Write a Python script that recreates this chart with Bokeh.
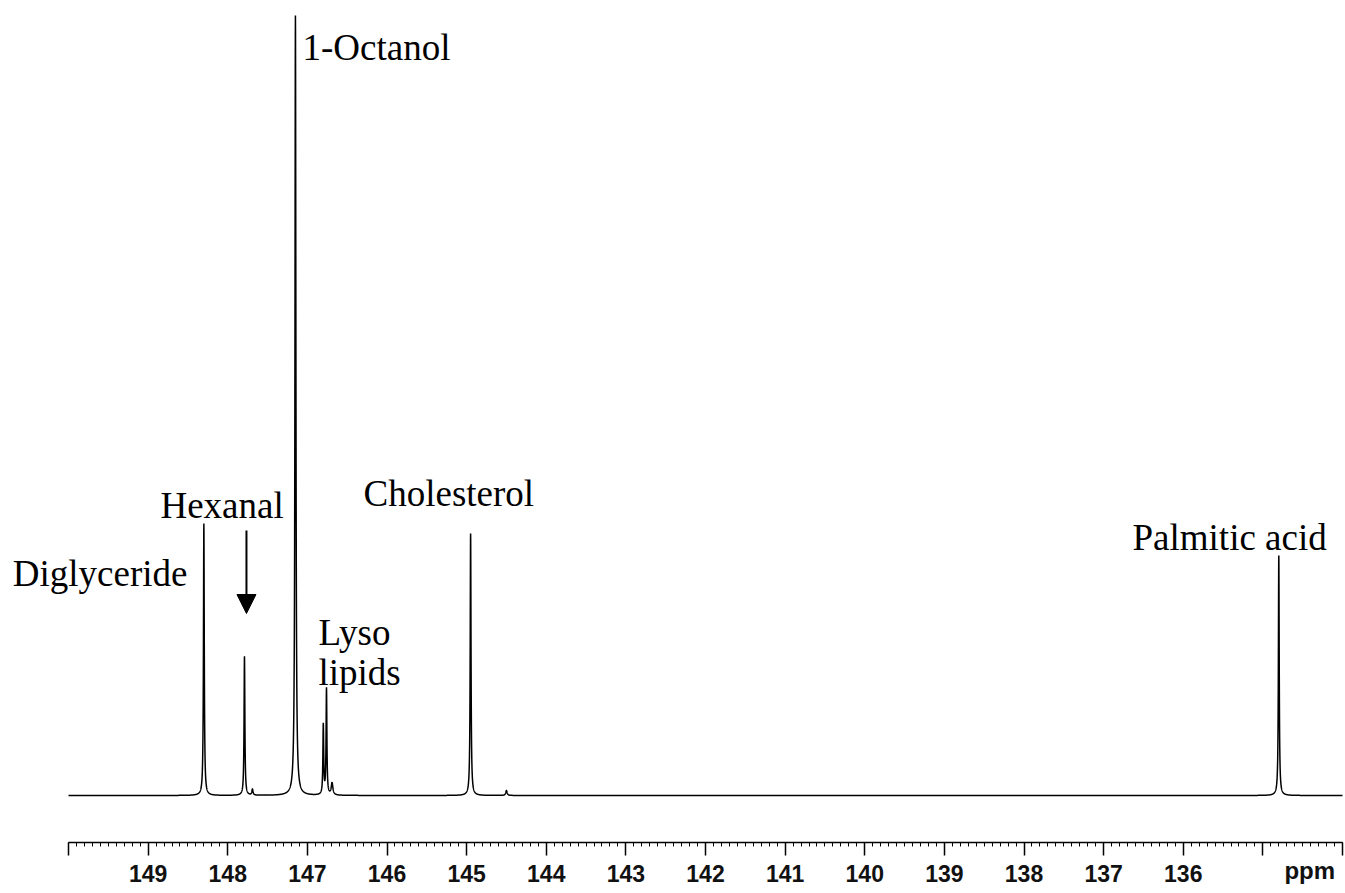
import numpy as np
from bokeh.plotting import figure
from bokeh.models import (Range1d, FixedTicker, Label, Arrow, NormalHead, ColumnDataSource)
from bokeh.embed import file_html
from bokeh.resources import INLINE

# ---- data ----
peak_names = ["Diglyceride", "Hexanal", "Hexanal side", "1-Octanol", "Lyso a", "Lyso b",
              "Lyso shoulder", "Cholesterol", "minor", "Palmitic acid"]
peak_ppm = [148.30, 147.79, 147.69, 147.15, 146.80, 146.76, 146.69, 144.95, 144.50, 134.80]
peak_height = [27.2, 13.9, 0.6, 78.0, 7.0, 10.6, 1.2, 26.2, 0.5, 24.0]
peak_width = [0.006, 0.006, 0.008, 0.007, 0.006, 0.006, 0.012, 0.006, 0.01, 0.006]

major_ticks = [150, 149, 148, 147, 146, 145, 144, 143, 142, 141, 140, 139, 138, 137, 136, 135, 134]
tick_labels = {150: "", 135: "", 134: ""}
axis_unit = "ppm"

x = np.linspace(134.0, 150.0, 16001)
y = np.zeros_like(x)
for c, h, g in zip(peak_ppm, peak_height, peak_width):
    y += h * g * g / ((x - c) ** 2 + g * g)

src = ColumnDataSource(dict(x=x, y=y))

PX_PER_PPM = 1274 / 16.0
p = figure(width=1345, height=893, output_backend="svg", toolbar_location=None,
           x_range=Range1d(150 + 68 / PX_PER_PPM, 134 - 3 / PX_PER_PPM),
           y_range=Range1d(-4.7, 78.5),
           min_border_left=0, min_border_right=0, min_border_top=10, min_border_bottom=51,
           y_axis_location=None)
p.outline_line_color = None
p.xgrid.visible = False
p.ygrid.visible = False
p.background_fill_color = "white"
p.border_fill_color = "white"

p.line("x", "y", source=src, line_color="black", line_width=1.5)

ax = p.xaxis[0]
ax.bounds = (134, 150)
ax.ticker = FixedTicker(ticks=major_ticks,
                        minor_ticks=[round(134 + i * 0.1, 1) for i in range(161)])
ax.major_label_overrides = tick_labels
ax.axis_line_color = "black"
ax.axis_line_width = 1.5
ax.major_tick_line_color = "black"
ax.major_tick_line_width = 1.5
ax.major_tick_in = 0
ax.major_tick_out = 13
ax.minor_tick_line_color = "black"
ax.minor_tick_line_width = 1
ax.minor_tick_in = 0
ax.minor_tick_out = 4
ax.major_label_text_font = "Liberation Sans"
ax.major_label_text_font_style = "bold"
ax.major_label_text_font_size = "23px"
ax.major_label_text_color = "#111111"
ax.major_label_standoff = 9

# unit label on the tick-label row, pushed to the right end with non-breaking spaces
ax.axis_label = "\u00a0" * 191 + axis_unit
ax.axis_label_text_font = "Liberation Sans"
ax.axis_label_text_font_style = "bold"
ax.axis_label_text_font_size = "24px"
ax.axis_label_text_color = "#111111"
ax.axis_label_standoff = -28
ax.axis_label_align = "center"

serif = "Liberation Serif"
labels = [
    ("1-Octanol", 147.061, 74.8),
    ("Hexanal", 148.845, 29.0),
    ("Diglyceride", 150.70, 22.2),
    ("Lyso", 146.86, 16.3),
    ("lipids", 146.86, 12.3),
    ("Cholesterol", 146.295, 30.2),
    ("Palmitic acid", 136.637, 25.8),
]
for t, lx, ly in labels:
    p.add_layout(Label(x=lx, y=ly, text=t, text_align="left", text_baseline="alphabetic",
                       text_font=serif, text_font_size="37px", text_color="black"))

p.add_layout(Arrow(end=NormalHead(size=19, fill_color="black", line_color="black"),
                   x_start=147.765, y_start=26.5, x_end=147.765, y_end=18.2,
                   line_color="black", line_width=2))

open("out.html", "w").write(file_html(p, INLINE))
